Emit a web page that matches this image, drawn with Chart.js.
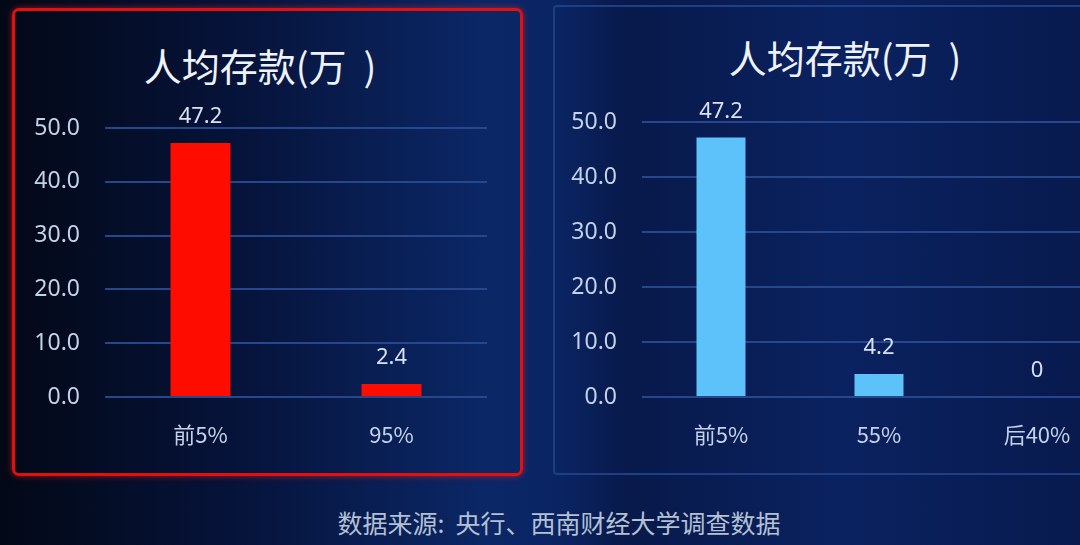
<!DOCTYPE html>
<html>
<head>
<meta charset="utf-8">
<script src="https://cdn.jsdelivr.net/npm/chart.js@4.4.0/dist/chart.umd.min.js"></script>
<style>
  html, body { margin: 0; padding: 0; }
  body {
    width: 1080px; height: 545px; overflow: hidden; position: relative;
    background: linear-gradient(to right, #030816 0%, #06133a 22%, #0b2766 45%, #0a2462 52%, #08194a 58%, #0a2260 78%, #081a4e 100%);
    font-family: "Noto Sans CJK SC", "Noto Sans", sans-serif;
  }
  .panel-left {
    position: absolute; left: 12px; top: 8px; width: 505px; height: 462px;
    border: 3px solid #e41010; border-radius: 7px;
    box-shadow: 0 0 6px rgba(255,30,30,0.6);
  }
  .panel-right {
    position: absolute; left: 553px; top: 5px; width: 560px; height: 466px;
    border: 2px solid #1d3f86; border-radius: 4px;
  }
  .title {
    position: absolute; color: #eef2fa; font-size: 38px; line-height: 38px; white-space: nowrap;
    transform: translate(-50%, -50%);
  }
  .box { position: absolute; }
  .source {
    position: absolute; left: 559px; top: 522px; transform: translate(-50%, -50%);
    color: #b4c0d4; font-size: 25px; line-height: 25px; white-space: nowrap;
  }
</style>
</head>
<body>
<div class="panel-left"></div>
<div class="panel-right"></div>
<div class="title" style="left:260px; top:65px;">人均存款(万&nbsp;&nbsp;)</div>
<div class="title" style="left:845px; top:57px;">人均存款(万&nbsp;&nbsp;)</div>
<div class="box" style="left:20px; top:89px; width:467px; height:368px;"><canvas id="chartLeft"></canvas></div>
<div class="box" style="left:560px; top:83px; width:556px; height:374px;"><canvas id="chartRight"></canvas></div>
<div class="source">数据来源:&nbsp;&nbsp;央行、西南财经大学调查数据</div>
<script>
const leftCategories = ['前5%', '95%'];
const leftValues = [47.2, 2.4];
const rightCategories = ['前5%', '55%', '后40%'];
const rightValues = [47.2, 4.2, 0];
const yTicks = [0, 10, 20, 30, 40, 50];

const valueLabels = {
  id: 'valueLabels',
  afterDatasetsDraw(chart) {
    const ctx = chart.ctx;
    const meta = chart.getDatasetMeta(0);
    const data = chart.data.datasets[0].data;
    ctx.save();
    ctx.fillStyle = '#d6e2f2';
    ctx.font = '22px "Noto Sans", "Noto Sans CJK SC", sans-serif';
    ctx.textAlign = 'center';
    ctx.textBaseline = 'middle';
    meta.data.forEach((bar, i) => {
      ctx.fillText(String(data[i]), bar.x, bar.y - 26);
    });
    ctx.restore();
  }
};

function makeChart(id, labels, values, color, barPct, axisWidth) {
  return new Chart(document.getElementById(id), {
    type: 'bar',
    data: {
      labels: labels,
      datasets: [{
        data: values,
        backgroundColor: color,
        borderWidth: 0,
        barPercentage: barPct,
        categoryPercentage: 1
      }]
    },
    options: {
      responsive: true,
      maintainAspectRatio: false,
      animation: false,
      // y tick padding (25) + half label height already reserve ~39px on top
      layout: { padding: { top: 39, right: 0, left: 0, bottom: 0 } },
      plugins: { legend: { display: false }, tooltip: { enabled: false } },
      scales: {
        x: {
          grid: { display: false, drawTicks: false },
          border: { display: false },
          ticks: {
            color: '#c4d2e8', padding: 24,
            font: { size: 22, family: '"Noto Sans CJK SC", "Noto Sans", sans-serif' }
          },
          afterFit: s => { s.height = 60; }
        },
        y: {
          min: 0, max: 50,
          afterBuildTicks: s => { s.ticks = yTicks.map(v => ({ value: v })); },
          grid: { color: '#27478c', lineWidth: 2, drawTicks: false },
          border: { display: false },
          ticks: {
            color: '#c4d2e8', padding: 25,
            font: { size: 23, family: '"Noto Sans", sans-serif' },
            callback: v => Number(v).toFixed(1)
          },
          afterFit: s => { s.width = axisWidth; }
        }
      }
    },
    plugins: [valueLabels]
  });
}

makeChart('chartLeft', leftCategories, leftValues, '#ff0c00', 0.314, 85);
makeChart('chartRight', rightCategories, rightValues, '#5ec2fa', 0.31, 82);
</script>
</body>
</html>
